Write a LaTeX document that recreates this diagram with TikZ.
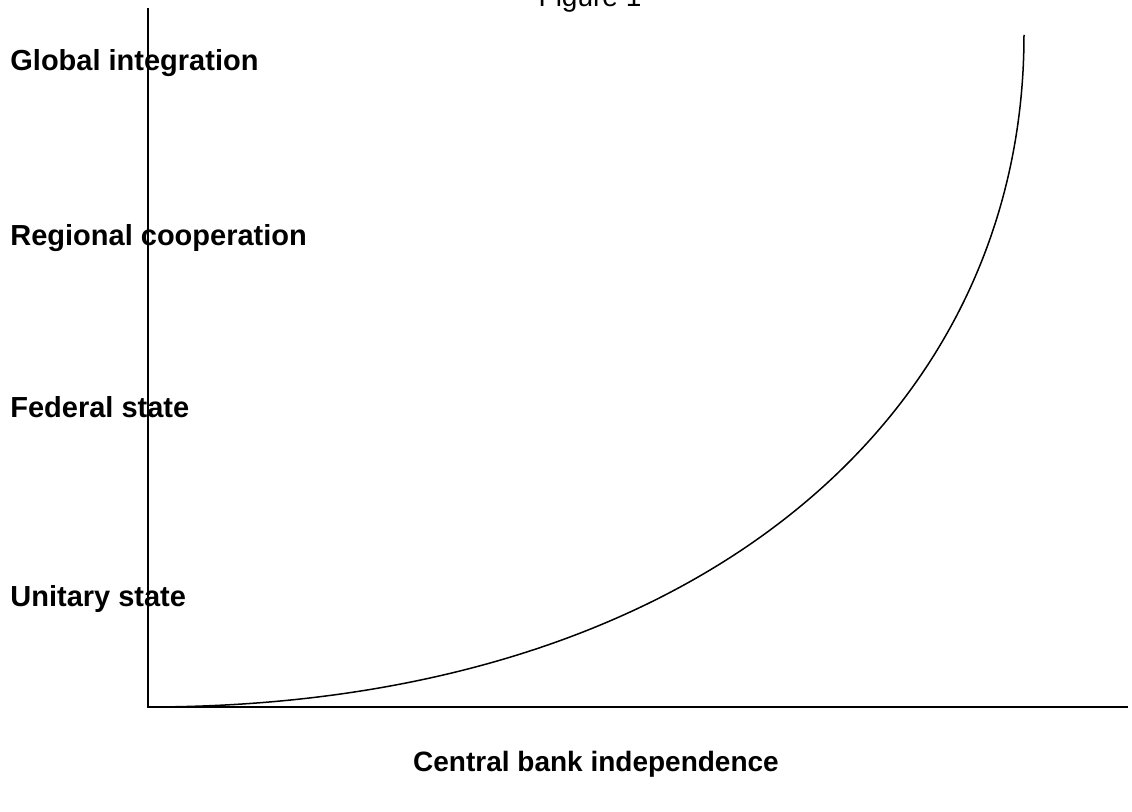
\documentclass[tikz,border=0pt]{standalone}
\usepackage{fontspec}
\setmainfont{Liberation Sans}
\usetikzlibrary{positioning}

\begin{document}
\begin{tikzpicture}[x=0.5pt,y=-0.5pt,
    lvl/.style={anchor=base west,inner sep=0pt,font=\bfseries\fontsize{14.5}{17}\selectfont},
    ttl/.style={anchor=base,inner sep=0pt,font=\fontsize{14}{17}\selectfont}]
            \useasboundingbox (0,0) rectangle (1132,812);
            \coordinate (origin) at (148,707);
            \coordinate (ytop) at (148,8);
            \coordinate (xend) at (1128,707);
            \coordinate (cend) at (1024,35);
            % Axes
            \draw[line width=0.75pt] (ytop) -- (origin) -- (xend);
            % Levels of government
            \node[lvl] (global) at (10,71) {Global integration};
            \node[lvl] (regional) at (10,246) {Regional cooperation};
            \node[lvl] (federal) at (10,418) {Federal state};
            \node[lvl] (unitary) at (10,607) {Unitary state};
            \node[ttl,font=\bfseries\fontsize{14}{17}\selectfont] (cbi) at (596,772) {Central bank independence};
            \node[ttl] (fig) at (590,7) {Figure 1};
            % Curve
            \draw[line width=0.75pt] (origin) .. controls (690,707) and (1024,420) .. (cend);
        \end{tikzpicture}
\end{document}
